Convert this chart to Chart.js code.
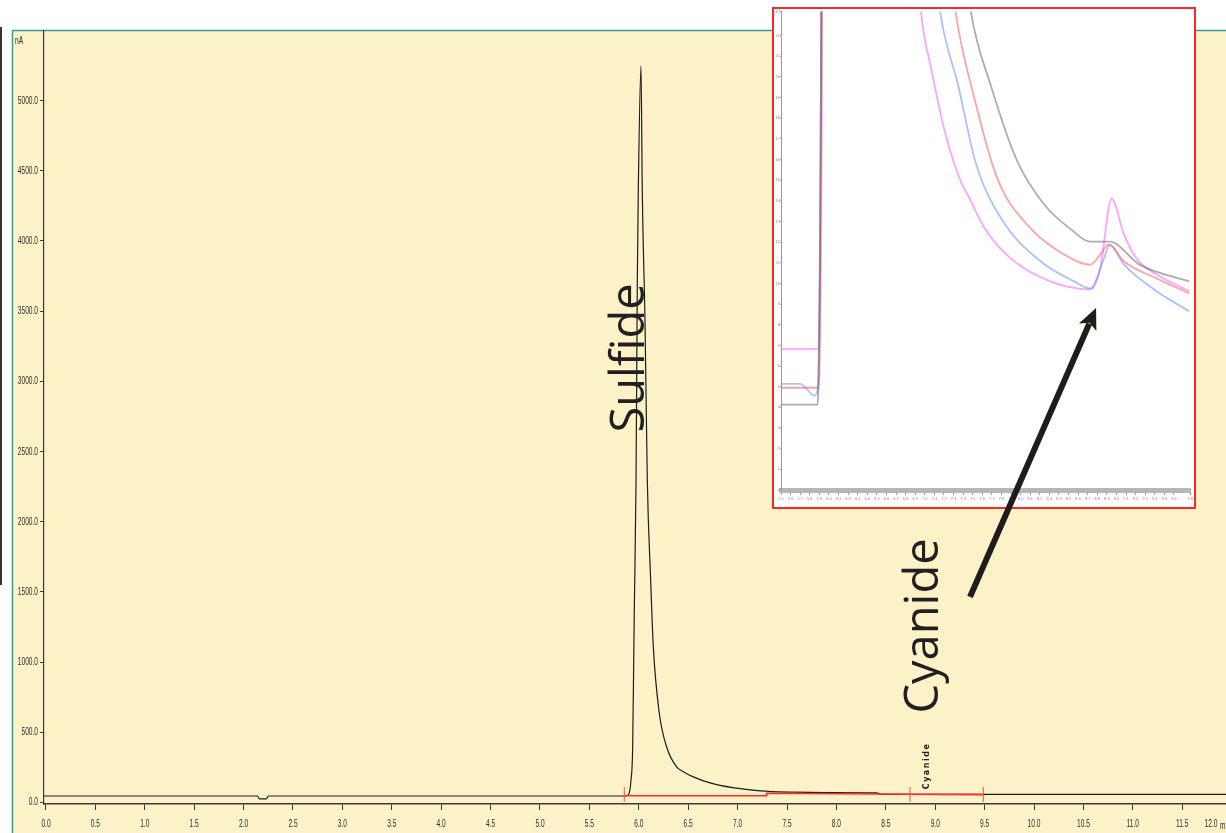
<!DOCTYPE html>
<html>
<head>
<meta charset="utf-8">
<script src="https://cdn.jsdelivr.net/npm/chart.js@4.4.1/dist/chart.umd.min.js"></script>
<style>
  html, body { margin: 0; padding: 0; background: #fff; overflow: hidden; }
  #wrap { position: relative; width: 1226px; height: 833px; }
  #main { position: absolute; left: 0; top: 0; }
  #insetBox { position: absolute; left: 772px; top: 7px; width: 424px; height: 502px;
              border: 2px solid #ff2626; box-sizing: border-box; background: #fff; }
  #inset { position: absolute; left: 0; top: 0; }
  #overlay { position: absolute; left: 0; top: 0; pointer-events: none; }
</style>
</head>
<body>
<div id="wrap">
  <canvas id="main" width="1226" height="833"></canvas>
  <div id="insetBox"><canvas id="inset" width="420" height="498"></canvas></div>
  <canvas id="overlay" width="1226" height="833"></canvas>
</div>
<script>
// ---- main chromatogram (time in min, current in nA) ----
const traceTime = [-0.02, 2.14, 2.16, 2.23, 2.25, 5.85, 5.894, 5.921, 5.938, 5.954, 5.972, 5.985, 5.995, 6.022,
                   6.035, 6.063, 6.086, 6.120, 6.147, 6.207, 6.282, 6.383, 6.45, 6.552, 6.721, 6.95, 7.23, 7.56, 7.90,
                   8.41, 8.45, 9.0, 9.5, 10.5, 11.943];
const traceNA   = [46, 46, 25, 25, 46, 46, 53, 160, 395, 1350, 2297, 3722, 4363, 5246,
                   4363, 3415, 2297, 1585, 1108, 637, 395, 253, 219, 182, 139, 105, 82, 73, 70,
                   68, 58, 58, 58, 58, 58];

// integration baseline (red) and peak start/end marks
const baseTime = [5.853, 7.294, 7.294, 8.745, 9.487];
const baseNA   = [48, 48, 66, 58, 56];
const markTime = [5.853, 8.745, 9.487];

const xTickValues = [0.0, 0.5, 1.0, 1.5, 2.0, 2.5, 3.0, 3.5, 4.0, 4.5, 5.0, 5.5, 6.0, 6.5, 7.0, 7.5, 8.0, 8.5,
                     9.0, 9.5, 10.0, 10.5, 11.0, 11.5];
const yTickValues = [0, 500, 1000, 1500, 2000, 2500, 3000, 3500, 4000, 4500, 5000];

// ---- inset: overlay of four runs, zoomed on the baseline ----
const grayTime = [5.51, 5.88, 5.92, 5.95, 7.30, 7.48, 7.69, 7.97, 8.25, 8.52, 8.73, 8.93, 9.24, 9.76];
const grayVal  = [4.13, 4.13, 23.2, 80, 30, 23.17, 19.57, 15.87, 13.80, 12.64, 12.02, 12.02, 10.91, 10.10];
const redTime  = [5.51, 5.89, 5.93, 5.96, 7.15, 7.32, 7.53, 7.76, 8.11, 8.46, 8.73, 8.83, 8.92, 9.08, 9.42, 9.76];
const redVal   = [4.95, 4.95, 23.2, 80, 30, 23.17, 18.75, 15.05, 12.64, 11.39, 10.91, 11.39, 11.88, 11.06, 10.24, 9.52];
const blueTime = [5.51, 5.70, 5.85, 5.88, 5.92, 5.95, 7.0, 7.16, 7.35, 7.53, 7.80, 8.21, 8.56, 8.73, 8.87, 8.93, 9.08, 9.42, 9.76];
const blueVal  = [5.14, 5.14, 4.57, 4.8, 23.2, 80, 30, 23.17, 19.57, 15.87, 13.13, 11.06, 10.10, 9.76, 11.20, 11.88, 10.91, 9.62, 8.65];
const pinkTime = [5.51, 5.89, 5.92, 5.95, 6.85, 6.96, 7.07, 7.22, 7.38, 7.45, 7.63, 7.90, 8.31, 8.73, 8.83, 8.95, 9.08, 9.21, 9.42, 9.76];
const pinkVal  = [6.83, 6.83, 23.2, 80, 30, 23.17, 20.34, 17.16, 14.90, 14.28, 12.64, 11.20, 10.10, 9.71, 10.72, 14.09, 12.36, 11.20, 10.43, 9.62];

const AXIS_FONT = "11px 'Liberation Sans', Arial, sans-serif";
const LABEL_FONT = "'Open Sans', 'Noto Sans', sans-serif";
const SQUEEZE = 0.6;
const CREAM = '#fbf2c8';
const TEAL = '#2f9e9a';

Chart.defaults.animation = false;

function pts(xs, ys) { return xs.map((x, i) => ({ x: x, y: ys[i] })); }

// the instrument software uses a very condensed font: squeeze the text horizontally
function squeezeText(ctx, txt, x, y, align) {
  ctx.save();
  ctx.translate(x, y);
  ctx.scale(SQUEEZE, 1);
  ctx.textAlign = align;
  ctx.fillText(txt, 0, 0);
  ctx.restore();
}

const markPts = [];
markTime.forEach(t => { markPts.push({ x: t, y: 4 }, { x: t, y: 110 }, { x: t, y: null }); });

const panelPlugin = {
  id: 'panel',
  beforeDraw(chart) {
    const ctx = chart.ctx;
    ctx.save();
    ctx.fillStyle = '#fff';
    ctx.fillRect(0, 0, chart.width, chart.height);
    ctx.fillStyle = CREAM;
    ctx.fillRect(13, 31, chart.width - 13, chart.height - 31);
    ctx.strokeStyle = TEAL;
    ctx.lineWidth = 1.5;
    ctx.beginPath();
    ctx.moveTo(12.5, chart.height);
    ctx.lineTo(12.5, 30.5);
    ctx.lineTo(chart.width, 30.5);
    ctx.stroke();
    // edge of a neighbouring window
    ctx.strokeStyle = '#333';
    ctx.lineWidth = 2;
    ctx.beginPath();
    ctx.moveTo(1, 27);
    ctx.lineTo(1, 585);
    ctx.stroke();
    ctx.restore();
  },
  afterDraw(chart) {
    const ctx = chart.ctx;
    const xs = chart.scales.x, ys = chart.scales.y;
    ctx.save();
    // axis labels
    ctx.fillStyle = '#2d2d2d';
    ctx.font = AXIS_FONT;
    ctx.textBaseline = 'middle';
    yTickValues.forEach(v => squeezeText(ctx, v.toFixed(1), 38, ys.getPixelForValue(v), 'right'));
    xTickValues.forEach(v => squeezeText(ctx, v.toFixed(1), xs.getPixelForValue(v), 824, 'center'));
    squeezeText(ctx, '12.0', 1211, 824, 'center');
    squeezeText(ctx, 'm', 1220, 826, 'left');
    squeezeText(ctx, 'nA', 15, 41, 'left');

    // big rotated peak names
    ctx.fillStyle = '#231f20';
    ctx.font = '47px ' + LABEL_FONT;
    ctx.textAlign = 'center';
    ctx.textBaseline = 'alphabetic';
    [['Sulfide', 6.05, 3166], ['Cyanide', 9.03, 1257]].forEach(([txt, t, v]) => {
      ctx.save();
      ctx.translate(xs.getPixelForValue(t), ys.getPixelForValue(v));
      ctx.rotate(-Math.PI / 2);
      ctx.fillText(txt, 0, 0);
      ctx.restore();
    });

    // small software peak label
    ctx.save();
    ctx.translate(xs.getPixelForValue(8.917), ys.getPixelForValue(260));
    ctx.rotate(-Math.PI / 2);
    ctx.font = "bold 8px 'DejaVu Sans', sans-serif";
    ctx.letterSpacing = '1.5px';
    ctx.fillStyle = '#222';
    ctx.textAlign = 'center';
    ctx.textBaseline = 'middle';
    ctx.fillText('Cyanide', 0, 0);
    ctx.restore();
    ctx.restore();

    // arrow pointing into the inset (drawn on top of everything)
    const oc = document.getElementById('overlay').getContext('2d');
    oc.clearRect(0, 0, 1226, 833);
    const x0 = xs.getPixelForValue(9.352), y0 = ys.getPixelForValue(1464);
    const x1 = xs.getPixelForValue(10.628), y1 = ys.getPixelForValue(3522);
    const len = Math.hypot(x1 - x0, y1 - y0);
    const ux = (x1 - x0) / len, uy = (y1 - y0) / len;
    const px = -uy, py = ux;
    const headLen = 21, headW = 9.5;
    oc.strokeStyle = '#1f1c1a';
    oc.fillStyle = '#1f1c1a';
    oc.lineWidth = 6;
    oc.beginPath();
    oc.moveTo(x0, y0);
    oc.lineTo(x1 - ux * (headLen - 4), y1 - uy * (headLen - 4));
    oc.stroke();
    oc.beginPath();
    oc.moveTo(x1, y1);
    oc.lineTo(x1 - ux * headLen + px * headW, y1 - uy * headLen + py * headW);
    oc.lineTo(x1 - ux * (headLen - 5), y1 - uy * (headLen - 5));
    oc.lineTo(x1 - ux * headLen - px * headW, y1 - uy * headLen - py * headW);
    oc.closePath();
    oc.fill();
  }
};

new Chart(document.getElementById('main'), {
  type: 'line',
  data: {
    datasets: [
      { label: 'Signal', data: pts(traceTime, traceNA), borderColor: '#1c1c1c', borderWidth: 1.2,
        pointRadius: 0, cubicInterpolationMode: 'monotone', order: 2 },
      { label: 'Baseline', data: pts(baseTime, baseNA), borderColor: '#ff2a2a', borderWidth: 1.6,
        pointRadius: 0, tension: 0, order: 1 },
      { label: 'Marks', data: markPts, borderColor: '#ff4a4a', borderWidth: 1,
        pointRadius: 0, tension: 0, spanGaps: false, order: 0 }
    ]
  },
  options: {
    responsive: false,
    animation: false,
    events: [],
    layout: { padding: { top: 31, left: 0, right: 0, bottom: 0 } },
    plugins: { legend: { display: false }, tooltip: { enabled: false } },
    scales: {
      x: {
        type: 'linear', min: -0.02, max: 11.943,
        afterBuildTicks: s => { s.ticks = xTickValues.map(v => ({ value: v })); },
        afterFit: s => { s.height = 29; },
        grid: { display: true, drawOnChartArea: false, drawTicks: true, tickLength: 6, color: '#3a3a3a' },
        border: { display: true, color: '#3a3a3a', width: 1.5 },
        ticks: { display: false, autoSkip: false }
      },
      y: {
        type: 'linear', min: -11, max: 5495,
        afterBuildTicks: s => { s.ticks = yTickValues.map(v => ({ value: v })); },
        afterFit: s => { s.width = 44; },
        grid: { display: true, drawOnChartArea: false, drawTicks: true, tickLength: 4, color: '#3a3a3a' },
        border: { display: true, color: '#3a3a3a', width: 1.2 },
        ticks: { display: false }
      }
    }
  },
  plugins: [panelPlugin]
});

// ---- inset chart ----
const insetLine = (label, xs, ys, color) => ({
  label: label, data: pts(xs, ys), borderColor: color, borderWidth: 1.8,
  pointRadius: 0, cubicInterpolationMode: 'monotone', clip: 0
});

new Chart(document.getElementById('inset'), {
  type: 'line',
  data: {
    datasets: [
      insetLine('Run 1', grayTime, grayVal, 'rgba(105,105,105,0.55)'),
      insetLine('Run 2', redTime, redVal, 'rgba(255,85,85,0.55)'),
      insetLine('Run 3', blueTime, blueVal, 'rgba(100,140,255,0.55)'),
      insetLine('Run 4', pinkTime, pinkVal, 'rgba(255,100,255,0.6)')
    ]
  },
  options: {
    responsive: false,
    animation: false,
    events: [],
    layout: { padding: 0 },
    plugins: { legend: { display: false }, tooltip: { enabled: false } },
    scales: {
      x: {
        type: 'linear', min: 5.5, max: 9.77,
        afterFit: s => { s.height = 17; },
        grid: { display: true, drawOnChartArea: false, drawTicks: true, tickLength: 5, color: '#9a9a9a' },
        border: { display: true, color: 'rgba(170,170,170,0.85)', width: 5 },
        ticks: { stepSize: 0.1, autoSkip: false, maxRotation: 0, padding: 1, color: '#888',
                 font: { size: 4 }, callback: v => v.toFixed(1) }
      },
      y: {
        type: 'linear', min: 0, max: 23.17,
        afterFit: s => { s.width = 7; },
        grid: { display: true, drawOnChartArea: false, drawTicks: true, tickLength: 1, color: '#aaa' },
        border: { display: true, color: '#999', width: 1 },
        ticks: { stepSize: 1, padding: 0, color: '#888', font: { size: 4 }, callback: v => String(v) }
      }
    }
  }
});
</script>
</body>
</html>
